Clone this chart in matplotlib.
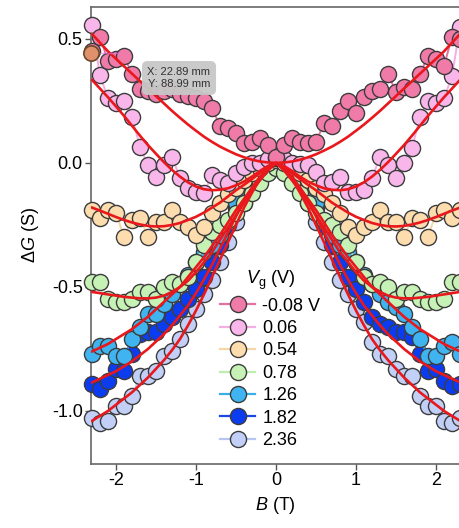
import matplotlib
matplotlib.use('Agg')
import matplotlib.pyplot as plt
from matplotlib.lines import Line2D

plt.rcParams['font.family'] = ['Liberation Sans', 'DejaVu Sans']
plt.rcParams['mathtext.fontset'] = 'custom'
plt.rcParams['mathtext.rm'] = 'Liberation Sans'
plt.rcParams['mathtext.it'] = 'Liberation Sans:italic'

# magnetic field (T)
B = [-2.3, -2.2, -2.1, -2.0, -1.9, -1.8, -1.7, -1.6, -1.5, -1.4, -1.3, -1.2,
     -1.1, -1.0, -0.9, -0.8, -0.7, -0.6, -0.5, -0.4, -0.3, -0.2, -0.1, 0.0,
     0.1, 0.2, 0.3, 0.4, 0.5, 0.6, 0.7, 0.8, 0.9, 1.0, 1.1, 1.2, 1.3, 1.4,
     1.5, 1.6, 1.7, 1.8, 1.9, 2.0, 2.1, 2.2, 2.3]

labels = ['-0.08 V', '0.06', '0.54', '0.78', '1.26', '1.82', '2.36']

# measured delta G (S)
g_m008 = [0.45, 0.51, 0.41, 0.42, 0.43, 0.36, 0.30, 0.29, 0.28, 0.29, 0.30, 0.28, 0.27, 0.26, 0.25, 0.22,
          0.15, 0.14, 0.12, 0.08, 0.085, 0.10, 0.072, 0.025, 0.072, 0.10, 0.085, 0.08, 0.085, 0.16, 0.15,
          0.21, 0.25, 0.20, 0.265, 0.29, 0.30, 0.36, 0.285, 0.305, 0.30, 0.36, 0.43, 0.42, 0.39, 0.51, 0.50]
g_006 = [0.555, 0.353, 0.26, 0.24, 0.25, 0.185, 0.064, -0.008, -0.056, -0.008, 0.024, -0.06, -0.10, -0.116,
         -0.12, -0.05, -0.068, -0.08, -0.04, -0.016, 0.0, 0.0, 0.015, 0.02, 0.015, 0.0, -0.005, -0.008, -0.036,
         -0.08, -0.078, -0.056, -0.116, -0.116, -0.108, -0.06, 0.024, -0.008, -0.06, 0.0, 0.06, 0.185, 0.25,
         0.24, 0.26, 0.35, 0.55]
g_054 = [-0.19, -0.22, -0.19, -0.20, -0.30, -0.23, -0.22, -0.30, -0.24, -0.24, -0.19, -0.24, -0.26, -0.29,
         -0.26, -0.20, -0.16, -0.125, -0.10, -0.07, -0.04, -0.02, 0.0, 0.01, 0.0, -0.02, -0.04, -0.07, -0.10,
         -0.125, -0.16, -0.20, -0.26, -0.29, -0.26, -0.24, -0.19, -0.24, -0.24, -0.30, -0.22, -0.23, -0.30,
         -0.20, -0.19, -0.22, -0.19]
g_078 = [-0.48, -0.48, -0.55, -0.56, -0.56, -0.55, -0.52, -0.52, -0.55, -0.50, -0.48, -0.49, -0.46, -0.40,
         -0.33, -0.28, -0.25, -0.23, -0.20, -0.16, -0.12, -0.08, -0.04, -0.02, -0.04, -0.08, -0.12, -0.16,
         -0.20, -0.23, -0.25, -0.28, -0.33, -0.40, -0.46, -0.49, -0.48, -0.50, -0.55, -0.52, -0.52, -0.55,
         -0.56, -0.56, -0.55, -0.48, -0.48]
g_126 = [-0.77, -0.74, -0.74, -0.78, -0.78, -0.71, -0.66, -0.61, -0.61, -0.57, -0.53, -0.49, -0.45, -0.40,
         -0.36, -0.33, -0.29, -0.24, -0.16, -0.11, -0.07, -0.03, -0.01, 0.0, -0.01, -0.03, -0.07, -0.11,
         -0.16, -0.24, -0.29, -0.33, -0.36, -0.40, -0.45, -0.49, -0.53, -0.56, -0.58, -0.61, -0.66, -0.71,
         -0.78, -0.78, -0.74, -0.72, -0.77]
g_182 = [-0.89, -0.91, -0.88, -0.83, -0.84, -0.77, -0.69, -0.68, -0.68, -0.65, -0.62, -0.59, -0.55, -0.51,
         -0.46, -0.40, -0.33, -0.25, -0.18, -0.12, -0.07, -0.03, -0.01, 0.0, -0.01, -0.03, -0.07, -0.12,
         -0.18, -0.25, -0.33, -0.40, -0.46, -0.51, -0.56, -0.62, -0.65, -0.66, -0.68, -0.68, -0.70, -0.77,
         -0.84, -0.83, -0.88, -0.90, -0.89]
g_236 = [-1.03, -1.05, -1.04, -0.98, -0.98, -0.94, -0.86, -0.86, -0.84, -0.78, -0.76, -0.71, -0.65, -0.59,
         -0.53, -0.47, -0.40, -0.32, -0.24, -0.16, -0.09, -0.04, -0.01, 0.0, -0.01, -0.04, -0.09, -0.16,
         -0.24, -0.32, -0.40, -0.47, -0.53, -0.59, -0.64, -0.72, -0.77, -0.78, -0.83, -0.86, -0.86, -0.94,
         -0.98, -0.98, -1.04, -1.05, -1.03]

# fitted curves
f_m008 = [.52, .485, .45, .42, .39, .36, .33, .30, .27, .24, .21, .182, .155, .13, .106, .085, .066, .05,
          .035, .023, .013, .006, .002, 0, .002, .006, .013, .023, .035, .05, .066, .085, .106, .13, .155,
          .182, .21, .24, .27, .30, .33, .36, .39, .42, .45, .485, .52]
f_006 = [.335, .30, .265, .228, .19, .15, .11, .072, .037, .003, -.028, -.055, -.078, -.095, -.106, -.11,
         -.108, -.102, -.09, -.075, -.055, -.032, -.012, 0, -.012, -.032, -.055, -.075, -.09, -.102, -.108,
         -.11, -.106, -.095, -.078, -.055, -.028, .003, .037, .072, .11, .15, .19, .228, .265, .30, .335]
f_054 = [-.18, -.192, -.205, -.218, -.23, -.24, -.248, -.254, -.256, -.255, -.25, -.242, -.23, -.217, -.2,
         -.18, -.16, -.135, -.11, -.088, -.065, -.04, -.015, 0, -.015, -.04, -.065, -.088, -.11, -.135, -.16,
         -.18, -.2, -.217, -.23, -.242, -.25, -.255, -.256, -.254, -.248, -.24, -.23, -.218, -.205, -.192, -.18]
f_078 = [-.52, -.525, -.53, -.535, -.54, -.543, -.546, -.546, -.543, -.535, -.52, -.50, -.475, -.44, -.40,
         -.36, -.31, -.26, -.21, -.16, -.11, -.07, -.03, 0, -.03, -.07, -.11, -.16, -.21, -.26, -.31, -.36,
         -.40, -.44, -.475, -.50, -.52, -.535, -.543, -.546, -.546, -.543, -.54, -.535, -.53, -.525, -.52]
f_126 = [-.76, -.745, -.73, -.71, -.69, -.67, -.645, -.62, -.59, -.56, -.53, -.50, -.46, -.42, -.38, -.335,
         -.29, -.24, -.19, -.145, -.10, -.06, -.025, 0, -.025, -.06, -.10, -.145, -.19, -.24, -.29, -.335,
         -.38, -.42, -.46, -.50, -.53, -.56, -.59, -.62, -.645, -.67, -.69, -.71, -.73, -.745, -.76]
f_182 = [-.885, -.87, -.855, -.84, -.82, -.80, -.775, -.75, -.72, -.69, -.655, -.615, -.575, -.525, -.47,
         -.41, -.345, -.28, -.215, -.155, -.10, -.055, -.02, 0, -.02, -.055, -.10, -.155, -.215, -.28, -.345,
         -.41, -.47, -.525, -.575, -.615, -.655, -.69, -.72, -.75, -.775, -.80, -.82, -.84, -.855, -.87, -.885]
f_236 = [-1.04, -1.02, -1.0, -.975, -.95, -.925, -.895, -.865, -.83, -.795, -.755, -.71, -.655, -.595, -.53,
         -.46, -.39, -.32, -.25, -.18, -.12, -.065, -.025, 0, -.025, -.065, -.12, -.18, -.25, -.32, -.39, -.46,
         -.53, -.595, -.655, -.71, -.755, -.795, -.83, -.865, -.895, -.925, -.95, -.975, -1.0, -1.02, -1.04]

data = [g_m008, g_006, g_054, g_078, g_126, g_182, g_236]
fits = [f_m008, f_006, f_054, f_078, f_126, f_182, f_236]
face = ['#f07aa8', '#f9b6ea', '#fddcae', '#c6f2b6', '#3fb4f0', '#0c3cf0', '#c2d0f8']
linec = ['#e272a4', '#f5aee2', '#f7d6a6', '#bdeeae', '#3aaee8', '#1a46e6', '#b6c6f0']

fig = plt.figure(figsize=(4.6, 5.28), dpi=100)
ax = fig.add_axes([91 / 460, 64 / 528, 369 / 460, 457 / 528])

# data points, last series drawn first so -0.08 V sits on top
for i in range(len(data) - 1, -1, -1):
    ax.plot(B, data[i], '-o', color=linec[i], lw=1.4, ms=11.6, mfc=face[i], mec='#3c3c3c',
            mew=1.0, clip_on=False, zorder=3 + (len(data) - i) * 0.1)

# red fits
for f in fits:
    ax.plot(B, f, '-', color='#e8181c', lw=1.9, zorder=5)

# cursor marker left by the graphing program
ax.plot([-2.31, -1.95], [0.444, 0.444], '-', color='#f070e0', lw=1.0, alpha=0.6, zorder=6, clip_on=False)
ax.plot([-2.31], [0.444], 'o', ms=11, mfc='#e0906a', mec='#6a4a2a', mew=1.2, zorder=7, clip_on=False)

ax.set_xlim(-2.3125, 2.30)
ax.set_ylim(-1.214, 0.629)
ax.set_xticks([-2, -1, 0, 1, 2])
ax.set_xticklabels(['-2', '-1', '0', '1', '2'])
ax.set_yticks([0.5, 0.0, -0.5, -1.0])
ax.set_yticklabels(['0.5', '0.0', '-0.5', '-1.0'])
ax.tick_params(direction='out', length=4, width=1, color='#555555', labelsize=13, pad=2)
for s in ax.spines.values():
    s.set_color('#666666')
    s.set_linewidth(1.2)

ax.set_xlabel(r'$B$ (T)', fontsize=13, labelpad=4)
ax.set_ylabel(r'$\Delta G$ (S)', fontsize=13, labelpad=8)

# legend
handles = []
for i in range(len(labels)):
    handles.append(Line2D([], [], color=linec[i], lw=1.6, marker='o', ms=11.6, mfc=face[i],
                          mec='#3c3c3c', mew=1.0))
leg = ax.legend(handles, labels, title=r'$V_\mathrm{g}$ (V)', loc='upper left',
                bbox_to_anchor=(220 / 460, 1 - 269 / 528), bbox_transform=fig.transFigure,
                frameon=False, fontsize=13, title_fontsize=13, handlelength=1.95,
                handletextpad=0.4, labelspacing=0.3, borderpad=0, borderaxespad=0)
leg.set_zorder(8)

# measurement tooltip
fig.text(179 / 460, 1 - 78 / 528, 'X: 22.89 mm\nY: 88.99 mm', fontsize=8, ha='center', va='center',
         color='#333333', linespacing=1.35, zorder=9,
         bbox=dict(boxstyle='round,pad=0.5', fc='#c8c8c8', ec='none', alpha=0.95))

fig.savefig('out.png', dpi=100)
